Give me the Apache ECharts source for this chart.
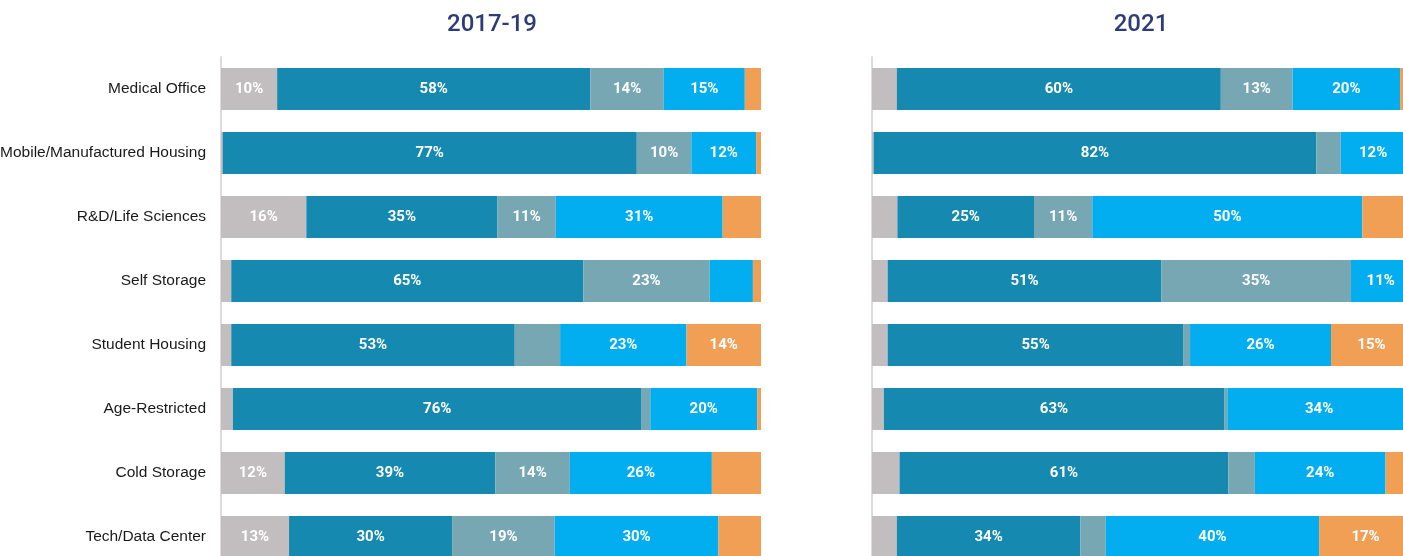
<!DOCTYPE html>
<html>
<head>
<meta charset="utf-8">
<script src="https://cdn.jsdelivr.net/npm/echarts@6/dist/echarts.min.js"></script>
<style>
  html, body { margin: 0; padding: 0; background: #fff; }
  #chart { width: 1403px; height: 556px; }
</style>
</head>
<body>
<div id="chart"></div>
<script>
// categories, top to bottom
const categories = [
  "Medical Office", "Mobile/Manufactured Housing", "R&D/Life Sciences", "Self Storage",
  "Student Housing", "Age-Restricted", "Cold Storage", "Tech/Data Center"
];
const seriesNames = ["Gray", "Teal", "Slate", "Blue", "Orange"];

// 2017-19 shares (%)
const gray1719   = [10.4, 0.3, 15.8, 1.9, 1.9, 2.2, 11.8, 12.6];
const teal1719   = [58.0, 76.7, 35.4, 65.2, 52.5, 75.7, 39.0, 30.2];
const slate1719  = [13.6, 10.1, 10.8, 23.4, 8.4, 1.6, 13.8, 19.0];
const blue1719   = [15.0, 12.0, 30.9, 8.0, 23.4, 19.8, 26.3, 30.3];
const orange1719 = [3.0, 0.9, 7.1, 1.5, 13.8, 0.7, 9.1, 7.9];

// 2021 shares (%)
const gray21   = [4.6, 0.3, 4.7, 2.9, 2.9, 2.2, 5.1, 4.6];
const teal21   = [60.0, 82.0, 25.3, 50.7, 54.8, 63.0, 60.9, 34.0];
const slate21  = [13.3, 4.5, 10.8, 35.1, 1.2, 0.6, 4.9, 4.7];
const blue21   = [19.9, 12.0, 50.0, 11.0, 26.1, 34.0, 24.2, 39.5];
const orange21 = [2.2, 1.2, 9.2, 0.3, 15.0, 0.2, 4.9, 17.2];

const colors = ["#c2bdbe", "#1689b0", "#76a7b2", "#02aeef", "#f09f55"];

const chart = echarts.init(document.getElementById("chart"));

function makeSeries(panel, lists) {
  return lists.map((values, i) => ({
    name: seriesNames[i],
    type: "bar",
    stack: "p" + panel,
    xAxisIndex: panel,
    yAxisIndex: panel,
    barWidth: 42,
    data: values,
    itemStyle: { color: colors[i] },
    label: {
      show: true,
      position: "inside",
      color: "#fff",
      fontFamily: "Roboto, sans-serif",
      fontWeight: "bold",
      fontSize: 15,
      formatter: p => (p.value >= 9.5 ? Math.round(p.value) + "%" : "")
    },
    emphasis: { disabled: true }
  }));
}

const xAxisBase = { type: "value", min: 0, max: 100, show: false };
const yAxisBase = {
  type: "category",
  data: categories,
  inverse: true,
  axisTick: { show: false },
  axisLine: { show: true, lineStyle: { color: "#dcdcdc", width: 2 } }
};

chart.setOption({
  animation: false,
  graphic: [
    { type: "text", x: 492, y: 25, style: { text: "2017-19", fill: "#2d3c78",
      font: "500 24px Roboto", textAlign: "center", textVerticalAlign: "middle" } },
    { type: "text", x: 1141, y: 25, style: { text: "2021", fill: "#2d3c78",
      font: "500 24px Roboto", textAlign: "center", textVerticalAlign: "middle" } }
  ],
  grid: [
    { left: 221, width: 540, top: 57, height: 512, outerBoundsMode: "none" },
    { left: 872, width: 540, top: 57, height: 512, outerBoundsMode: "none" }
  ],
  xAxis: [
    Object.assign({ gridIndex: 0 }, xAxisBase),
    Object.assign({ gridIndex: 1 }, xAxisBase)
  ],
  yAxis: [
    Object.assign({ gridIndex: 0 }, yAxisBase, {
      axisLabel: { color: "#1a1a1a", fontSize: 15.5, fontFamily: "'Liberation Sans', Arial, sans-serif", margin: 15 }
    }),
    Object.assign({ gridIndex: 1 }, yAxisBase, { axisLabel: { show: false } })
  ],
  series: makeSeries(0, [gray1719, teal1719, slate1719, blue1719, orange1719])
    .concat(makeSeries(1, [gray21, teal21, slate21, blue21, orange21]))
});
</script>
</body>
</html>
